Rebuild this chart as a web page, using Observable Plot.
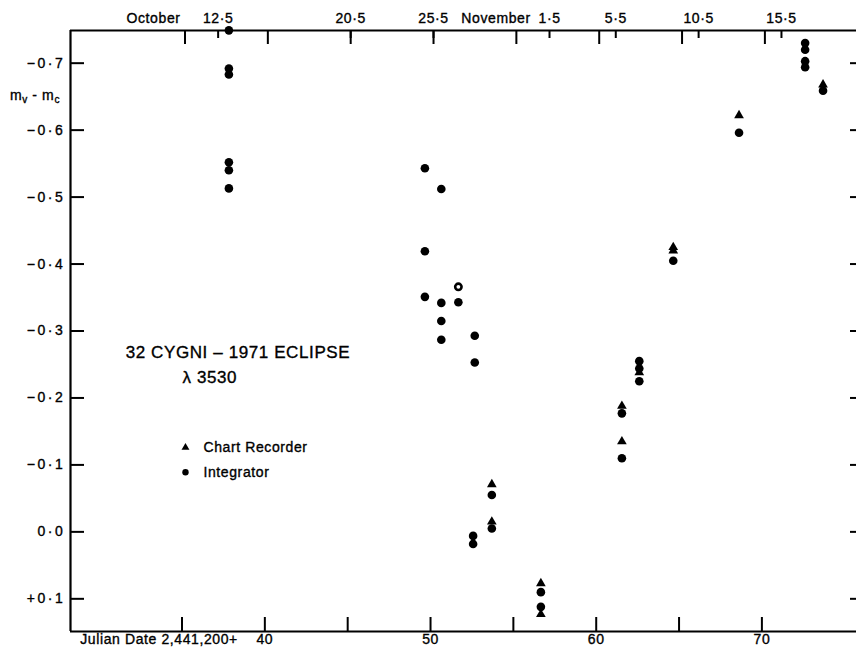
<!DOCTYPE html>
<html><head><meta charset="utf-8">
<script src="https://cdn.jsdelivr.net/npm/d3@7"></script>
<script src="https://cdn.jsdelivr.net/npm/@observablehq/plot@0.6"></script>
<style>
html,body{margin:0;padding:0;background:#fff;overflow:hidden}
#chart svg{display:block}
#chart svg text{letter-spacing:0.6px;stroke:#000;stroke-width:0.35px}
#chart svg g.ylab text{letter-spacing:2.6px}
</style></head><body><div id="chart"></div>
<script>
// Julian Date − 2,441,200 and magnitude difference m_v − m_c (negative = brighter, plotted upward)
const integratorJD  = [37.83,37.83,37.83,37.83,37.83,37.83, 49.66,49.66,49.66, 50.65,50.65,50.65,50.65, 51.68, 52.67,52.67, 52.57,52.57, 53.70,53.70, 56.66,56.66, 61.55,61.55, 62.60,62.60,62.60, 64.65, 68.62, 72.61,72.61,72.61,72.61, 73.69];
const integratorMag = [-0.749,-0.692,-0.683,-0.552,-0.540,-0.513, -0.543,-0.419,-0.351, -0.512,-0.342,-0.315,-0.287, -0.343, -0.293,-0.253, 0.006,0.018, -0.055,-0.005, 0.090,0.112, -0.177,-0.110, -0.255,-0.244,-0.225, -0.405, -0.596, -0.730,-0.720,-0.703,-0.694, -0.659];
const openJD  = [51.68];
const openMag = [-0.366];
const recorderJD  = [53.70,53.70, 56.66,56.66, 61.55,61.55, 62.60, 64.65,64.65, 68.62, 73.69];
const recorderMag = [-0.071,-0.015, 0.077,0.123, -0.188,-0.135, -0.238, -0.425,-0.420, -0.622, -0.668];

// axes
const xDomain = [28.27, 75.71];
const yDomain = [0.1488, -0.7488];
const xTicks = [35,40,45,50,55,60,65,70];
const xLabels = [40,50,60,70];
const yTicks = [-0.7,-0.6,-0.5,-0.4,-0.3,-0.2,-0.1,0.0,0.1];
const topDates = [37,45,50,57,61,66,71];
const topDateLabels = ["12·5","20·5","25·5","1·5","5·5","10·5","15·5"];
const monthNames = ["October","November"];
const monthJD = [33.1,53.77];
const xAxisCaption = "Julian Date 2,441,200+";

// annotations
const titleLines = ["32 CYGNI – 1971 ECLIPSE","λ 3530"];
const titleJD = [31.6,35.03];
const titleMag = [-0.260,-0.223];
const legendLabels = ["Chart Recorder","Integrator"];
const legendSymbols = ["triangle","circle"];
const legendJD = [35.21,35.21];
const legendMag = [-0.126,-0.089];

const fmtY = v => (v < -1e-9 ? "−" : v > 1e-9 ? "+" : "") + Math.abs(v).toFixed(1).replace(".", "·");
const blank = () => "";
const idx = a => a.map((_, i) => i);

const plot = Plot.plot({
  width: 856, height: 652,
  marginLeft: 70, marginRight: 0, marginTop: 30, marginBottom: 21,
  x: {domain: xDomain},
  y: {domain: yDomain},
  style: {fontFamily: "'Liberation Sans', sans-serif", fontSize: "14px", color: "#000", background: "#fff"},
  marks: [
    // frame lines (left, top, bottom)
    Plot.ruleX([xDomain[0]], {x: d => d, strokeWidth: 2.2}),
    Plot.ruleY([yDomain[0], yDomain[1]], {y: d => d, strokeWidth: 2.2}),
    // left axis
    Plot.axisY({ticks: yTicks, tickSize: -14, tickFormat: blank, strokeWidth: 2, label: null}),
    Plot.axisY({ticks: yTicks, tickSize: 0, tickPadding: 5, tickFormat: fmtY, label: null, fontSize: 14, className: "ylab"}),
    // right ticks
    Plot.axisY({ticks: yTicks, anchor: "right", tickSize: -7, tickFormat: blank, strokeWidth: 2, label: null}),
    // bottom axis
    Plot.axisX({ticks: xTicks, tickSize: -14, tickFormat: blank, strokeWidth: 2, label: null}),
    Plot.axisX({ticks: xLabels, tickSize: 0, tickPadding: 3, tickFormat: d => String(d), label: null, fontSize: 14}),
    Plot.text([xAxisCaption], {x: () => 40, text: d => d, frameAnchor: "bottom", lineAnchor: "top", textAnchor: "end", dx: -27, dy: 3, fontSize: 14}),
    // top axis
    Plot.axisX({anchor: "top", ticks: xTicks, tickSize: -13, tickFormat: blank, strokeWidth: 2, dx: 3, label: null}),
    Plot.axisX({anchor: "top", ticks: topDates, tickSize: -7, tickFormat: blank, strokeWidth: 2, dx: 3, label: null}),
    Plot.text(idx(topDates), {x: i => topDates[i], text: i => topDateLabels[i], frameAnchor: "top", lineAnchor: "bottom", dy: -8, dx: 3, fontSize: 14}),
    Plot.text(idx(monthNames), {x: i => monthJD[i], text: i => monthNames[i], frameAnchor: "top", lineAnchor: "bottom", dy: -8, dx: 3, fontSize: 14}),
    // title
    Plot.text(idx(titleLines), {x: i => titleJD[i], y: i => titleMag[i], text: i => titleLines[i], textAnchor: "start", lineAnchor: "bottom", fontSize: 17}),
    // legend
    Plot.dot(idx(legendLabels), {x: i => legendJD[i], y: i => legendMag[i], symbol: i => legendSymbols[i], r: i => legendSymbols[i] === "circle" ? 4.3 : 3.6, fill: "#000", stroke: "none"}),
    Plot.text(idx(legendLabels), {x: i => legendJD[i], y: i => legendMag[i], text: i => legendLabels[i], textAnchor: "start", dx: 18, fontSize: 14}),
    // data
    Plot.dot(idx(integratorJD), {x: i => integratorJD[i], y: i => integratorMag[i], r: 4.3, fill: "#000", stroke: "none"}),
    Plot.dot(idx(recorderJD), {x: i => recorderJD[i], y: i => recorderMag[i], symbol: "triangle", r: 3.6, fill: "#000", stroke: "none"}),
    Plot.dot(idx(openJD), {x: i => openJD[i], y: i => openMag[i], r: 3.2, fill: "#fff", stroke: "#000", strokeWidth: 2.6})
  ]
});
document.getElementById("chart").appendChild(plot);

// y-axis quantity label m_v − m_c with subscripts
const ys = plot.scale("y");
const svg = d3.select(plot);
const t = svg.append("text")
  .attr("x", 60).attr("y", ys.apply(-0.65) + 4)
  .attr("text-anchor", "end")
  .attr("font-family", "'Liberation Sans', sans-serif")
  .attr("font-size", 14)
  .attr("fill", "#000");
t.append("tspan").text("m");
t.append("tspan").attr("font-size", 10).attr("dy", 3).text("v");
t.append("tspan").attr("dy", -3).text(" - m");
t.append("tspan").attr("font-size", 10).attr("dy", 3).text("c");
</script>
</body></html>
